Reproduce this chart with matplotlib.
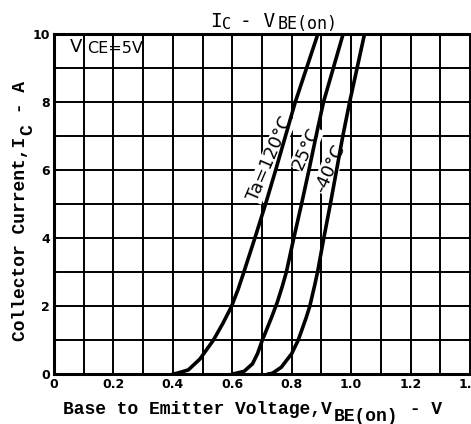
import matplotlib
matplotlib.use("Agg")
import matplotlib.pyplot as plt
import numpy as np

# Data (Ic in A vs VBE(on) in V)
i_120 = [0, 0.02, 0.12, 0.44, 0.99, 1.5, 1.98, 2.5, 3.0, 4, 5, 6, 7, 8, 9, 10]
v_120 = [0.40, 0.413, 0.452, 0.491, 0.536, 0.569, 0.597, 0.62, 0.639, 0.676, 0.712,
         0.746, 0.779, 0.812, 0.85, 0.888]
i_25 = [0, 0.02, 0.08, 0.3, 0.6, 0.97, 1.64, 2.1, 2.6, 3.0, 4, 5, 6, 7, 8, 9, 10]
v_25 = [0.60, 0.612, 0.64, 0.668, 0.685, 0.70, 0.731, 0.751, 0.769, 0.782, 0.807, 0.833,
        0.858, 0.882, 0.907, 0.94, 0.973]
i_m40 = [0, 0.02, 0.2, 0.6, 1.0, 1.64, 2.0, 2.6, 3.0, 4, 5, 6, 7, 8, 9, 10]
v_m40 = [0.72, 0.735, 0.765, 0.80, 0.822, 0.848, 0.861, 0.877, 0.887, 0.908, 0.93, 0.951,
         0.972, 0.995, 1.02, 1.045]
x_ticks = [0, 0.2, 0.4, 0.6, 0.8, 1.0, 1.2, 1.4]
x_labels = ["0", "0.2", "0.4", "0.6", "0.8", "1.0", "1.2", "1.4"]
y_ticks = [0, 2, 4, 6, 8, 10]
curve_labels = ["Ta=120°C", "25°C", "-40°C"]

W, H = 471, 424
fig = plt.figure(figsize=(W / 100, H / 100), dpi=100)
L, R, T, B = 54, 471.5, 34, 374
ax = fig.add_axes([L / W, 1 - B / H, (R - L) / W, (B - T) / H])
ax.set_xlim(0, 1.405)
ax.set_ylim(0, 10)

for v in np.arange(0.1, 1.41, 0.1):
    ax.axvline(v, color="black", lw=1.4, zorder=1)
for y in range(1, 10):
    ax.axhline(y, color="black", lw=1.4, zorder=1)

for v, i in ((v_120, i_120), (v_25, i_25), (v_m40, i_m40)):
    ax.plot(v, i, color="black", lw=2.6, zorder=3, solid_capstyle="round",
            solid_joinstyle="round")

for s in ax.spines.values():
    s.set_linewidth(2.2)
ax.spines["right"].set_visible(False)

ax.set_xticks(x_ticks)
ax.set_xticklabels(x_labels)
ax.set_yticks(y_ticks)
ax.tick_params(length=0, pad=3)
for lab in ax.get_xticklabels() + ax.get_yticklabels():
    lab.set_fontweight("bold")
    lab.set_fontsize(9)
    lab.set_family("DejaVu Sans")


def px(x, y):
    return x / W, 1 - y / H


mono = "Liberation Mono"
fs = 13
cw = 0.6 * fs * 100 / 72  # monospace advance in px

# x axis label
main_x = "Base to Emitter Voltage,V"
fig.text(*px(63, 414), main_x, family=mono, fontweight="bold", fontsize=fs,
         ha="left", va="baseline")
x_sub = 63 + len(main_x) * cw
fig.text(*px(x_sub, 421), "BE(on)", family=mono, fontweight="bold", fontsize=fs,
         ha="left", va="baseline")
fig.text(*px(x_sub + 6 * cw, 414), " - V", family=mono, fontweight="bold", fontsize=fs,
         ha="left", va="baseline")

# y axis label
main_y = "Collector Current,I"
fig.text(*px(25, 341), main_y, family=mono, fontweight="bold", fontsize=fs,
         ha="left", va="baseline", rotation=90, rotation_mode="anchor")
y_sub = 341 - len(main_y) * cw
fig.text(*px(32, y_sub), "C", family=mono, fontweight="bold", fontsize=fs,
         ha="left", va="baseline", rotation=90, rotation_mode="anchor")
fig.text(*px(25, y_sub - cw), " - A", family=mono, fontweight="bold", fontsize=fs,
         ha="left", va="baseline", rotation=90, rotation_mode="anchor")

# title
tfs = 14
tcw = 0.6 * tfs * 100 / 72
tx = 210
fig.text(*px(tx, 27), "I", family="DejaVu Sans Mono", fontsize=tfs, ha="left", va="baseline")
fig.text(*px(tx + tcw, 29), "C", family="DejaVu Sans Mono", fontsize=11, ha="left", va="baseline")
fig.text(*px(tx + 2.6 * tcw, 27), "- V", family="DejaVu Sans Mono", fontsize=tfs,
         ha="left", va="baseline")
fig.text(*px(tx + 5.8 * tcw, 29), "BE(on)", family="DejaVu Sans Mono", fontsize=12,
         ha="left", va="baseline")

# VCE annotation
ax.text(0.053, 9.62, "V", family="DejaVu Sans", fontsize=13, ha="left", va="center")
ax.text(0.113, 9.57, "CE=5V", family="DejaVu Sans", fontsize=11.5, ha="left", va="center")

# curve labels (white backing interrupts the grid, as in the original)
bb = dict(facecolor="white", edgecolor="none", pad=0.5)
ax.text(0.727, 6.33, curve_labels[0], rotation=67, fontsize=13, ha="center", va="center",
        family="DejaVu Sans", zorder=2, bbox=bb)
ax.text(0.85, 6.63, curve_labels[1], rotation=66, fontsize=13, ha="center", va="center",
        family="DejaVu Sans", zorder=2, bbox=bb)
ax.text(0.927, 6.04, curve_labels[2], rotation=66, fontsize=13, ha="center", va="center",
        family="DejaVu Sans", zorder=2, bbox=bb)

fig.savefig("out.png", dpi=100)
